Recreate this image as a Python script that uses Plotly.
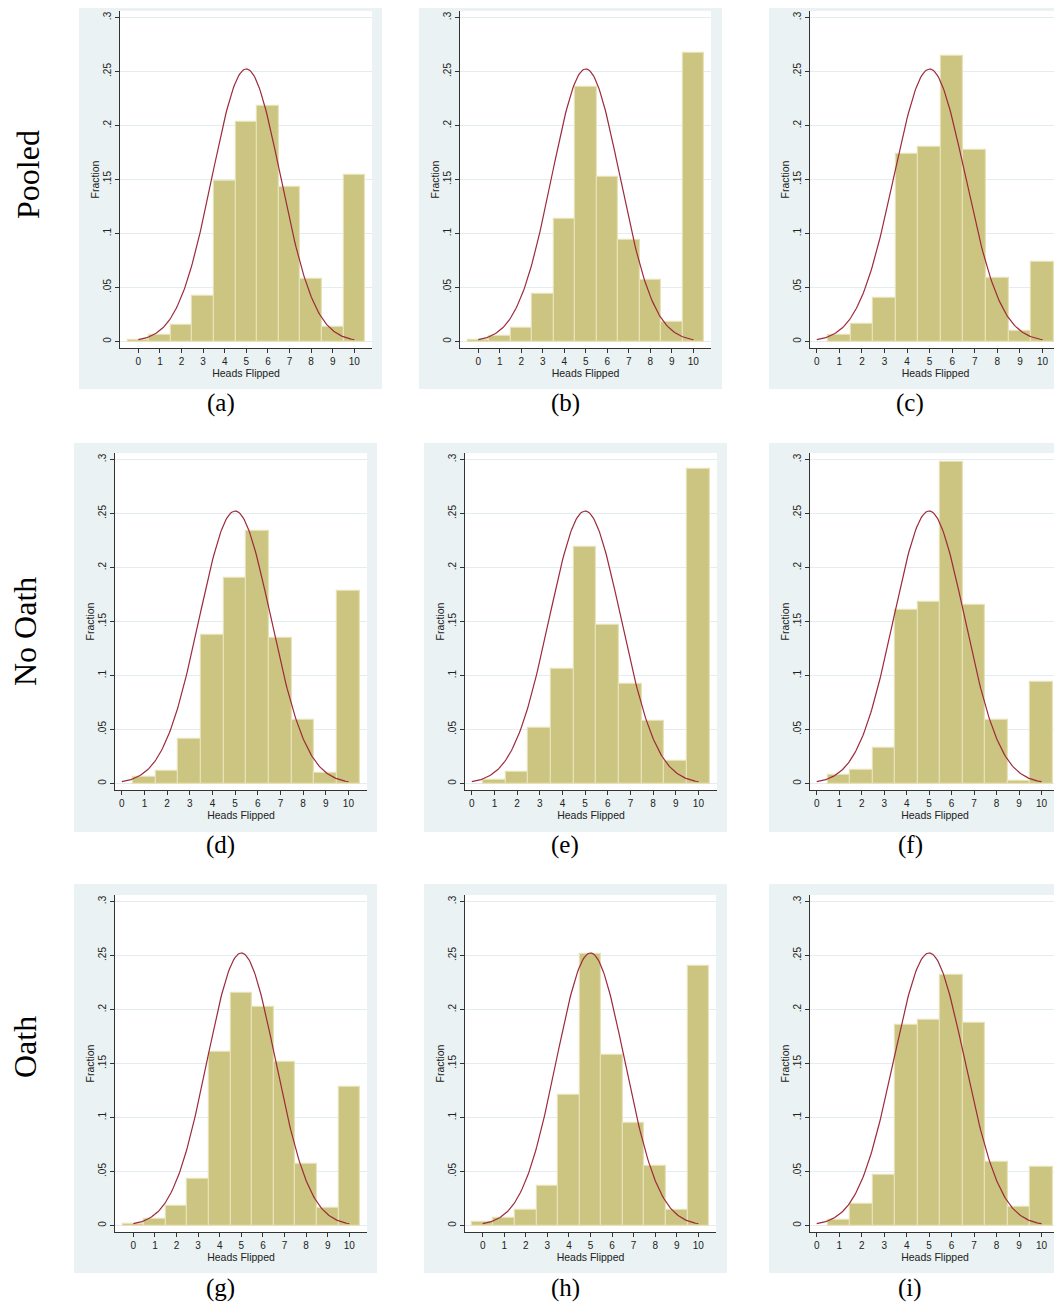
import math
import plotly.graph_objects as go

# the page body has an 8px margin; the figure is sized so that it fills the window
PAGE_W, PAGE_H = 1062, 1304
OFF = 8
W, H = PAGE_W - OFF, PAGE_H - OFF

# ---------------- data ----------------
heads = [0, 1, 2, 3, 4, 5, 6, 7, 8, 9, 10]
panel_labels = ["(a)", "(b)", "(c)", "(d)", "(e)", "(f)", "(g)", "(h)", "(i)"]
row_labels = ["Pooled", "No Oath", "Oath"]

frac_a = [0.001, 0.0062, 0.0151, 0.0419, 0.1486, 0.2029, 0.2180, 0.1428, 0.0580, 0.0136, 0.1539]
frac_b = [0.0015, 0.0052, 0.0126, 0.0441, 0.1135, 0.2353, 0.1520, 0.0940, 0.0567, 0.0179, 0.2670]
frac_c = [None, 0.0059, 0.0163, 0.0404, 0.1733, 0.1801, 0.2639, 0.1770, 0.0589, 0.0096, 0.0734]
frac_d = [None, 0.0059, 0.0118, 0.0411, 0.1376, 0.1902, 0.2341, 0.1345, 0.0585, 0.0102, 0.1785]
frac_e = [None, 0.0031, 0.0105, 0.0516, 0.1058, 0.2193, 0.1469, 0.0919, 0.0578, 0.0204, 0.2913]
frac_f = [None, 0.0077, 0.0121, 0.0328, 0.1605, 0.1679, 0.2978, 0.1655, 0.0585, 0.0022, 0.0937]
frac_g = [0.0018, 0.0059, 0.0179, 0.0428, 0.1602, 0.2153, 0.2024, 0.1512, 0.0573, 0.0163, 0.1287]
frac_h = [0.0034, 0.0071, 0.0145, 0.0363, 0.1204, 0.2516, 0.1577, 0.0946, 0.0548, 0.0145, 0.2406]
frac_i = [None, 0.0049, 0.0200, 0.0465, 0.1860, 0.1907, 0.2322, 0.1879, 0.0585, 0.0172, 0.0539]
fractions = [frac_a, frac_b, frac_c, frac_d, frac_e, frac_f, frac_g, frac_h, frac_i]

ytick_vals = [0, 0.05, 0.1, 0.15, 0.2, 0.25, 0.3]
ytick_text = ["0", ".05", ".1", ".15", ".2", ".25", ".3"]

# normal overlay: mean and variance of Binomial(10, 0.5)
norm_mu = 5.0
norm_sigma = math.sqrt(2.5)
curve_x = [i / 20 for i in range(0, 201)]
curve_y = [math.exp(-0.5 * ((x - norm_mu) / norm_sigma) ** 2) / (norm_sigma * math.sqrt(2 * math.pi))
           for x in curve_x]

# ---------------- layout geometry (page pixels) ----------------
# (bg_x0, bg_x1, bg_y0, bg_y1, plot_x0, plot_x1, plot_y0, plot_y1, xmin)
panels = [
    (79, 382, 0, 389, 120, 372, 11, 348, -0.85),
    (419, 722, 0, 389, 460, 711, 11, 348, -0.85),
    (769, 1062, 0, 389, 810, 1061, 11, 348, -0.3),
    (74, 377, 443, 832, 115, 367, 453, 790, -0.3),
    (424, 727, 443, 832, 465, 717, 453, 790, -0.3),
    (769, 1062, 443, 832, 810, 1060, 453, 790, -0.3),
    (74, 377, 884, 1273, 115, 367, 895, 1232, -0.85),
    (424, 727, 884, 1273, 465, 716, 895, 1232, -0.82),
    (769, 1062, 884, 1273, 810, 1060, 895, 1232, -0.3),
]
caption_pos = [(221, 403), (565, 403), (910, 403),
               (220, 845), (565, 845), (910, 845),
               (220, 1288), (565, 1288), (910, 1288)]
row_label_pos = [(28, 175), (25, 632), (25, 1047)]

BG = "#eaf2f3"
BAR = "#ccc481"
BAR_EDGE = "#e6e1b6"
CURVE = "#9c2a3c"
GRID = "#e3edef"
TXT = "#222222"

fig = go.Figure()
shapes = []
annotations = []
layout_axes = {}

def px(x):
    return (x - OFF) / W

def py(y):
    return 1 - (y - OFF) / H

for k, (bx0, bx1, by0, by1, x0, x1, y0, y1, xmin) in enumerate(panels):
    n = k + 1
    xa = "x" if n == 1 else f"x{n}"
    ya = "y" if n == 1 else f"y{n}"
    xkey = "xaxis" if n == 1 else f"xaxis{n}"
    ykey = "yaxis" if n == 1 else f"yaxis{n}"

    shapes.append(dict(type="rect", xref="paper", yref="paper", layer="below",
                       x0=px(bx0), x1=px(bx1), y0=py(by1), y1=py(by0),
                       fillcolor=BG, line=dict(width=0)))
    shapes.append(dict(type="rect", xref="paper", yref="paper", layer="below",
                       x0=px(x0), x1=px(x1), y0=py(y1), y1=py(y0),
                       fillcolor="white", line=dict(width=0)))

    fig.add_trace(go.Bar(x=heads, y=fractions[k], width=1.0, xaxis=xa, yaxis=ya,
                         marker=dict(color=BAR, line=dict(color=BAR_EDGE, width=1.2)),
                         showlegend=False, hoverinfo="x+y"))
    fig.add_trace(go.Scatter(x=curve_x, y=curve_y, mode="lines", xaxis=xa, yaxis=ya,
                             line=dict(color=CURVE, width=1.2), showlegend=False,
                             hoverinfo="skip"))

    layout_axes[xkey] = dict(
        domain=[max(0, px(x0)), min(1, px(x1))], anchor=ya, range=[xmin, 10.82],
        tickmode="array", tickvals=heads, ticktext=[str(h) for h in heads],
        ticks="outside", ticklen=4, tickwidth=1, tickcolor="#333",
        showline=True, linecolor="#333", linewidth=1, mirror=False,
        showgrid=False, zeroline=False,
        tickfont=dict(family="Liberation Sans", size=10, color=TXT),
        title=dict(text="Heads Flipped", standoff=0,
                   font=dict(family="Liberation Sans", size=10.5, color=TXT)),
        fixedrange=True,
    )
    layout_axes[ykey] = dict(
        domain=[max(0, py(y1)), min(1, py(y0))], anchor=xa, range=[-0.006, 0.306],
        tickmode="array", tickvals=ytick_vals, ticktext=ytick_text, tickangle=-90,
        ticks="outside", ticklen=4, tickwidth=1, tickcolor="#333",
        showline=True, linecolor="#333", linewidth=1,
        showgrid=True, gridcolor=GRID, gridwidth=1, zeroline=False,
        tickfont=dict(family="Liberation Sans", size=10, color=TXT),
        title=dict(text="Fraction", standoff=0,
                   font=dict(family="Liberation Sans", size=10.5, color=TXT)),
        fixedrange=True,
    )

for (cx, cy), lab in zip(caption_pos, panel_labels):
    annotations.append(dict(x=px(cx), y=py(cy), xref="paper", yref="paper",
                            text=lab, showarrow=False, xanchor="center", yanchor="middle",
                            font=dict(family="Liberation Serif", size=25, color="black")))

for (cx, cy), lab in zip(row_label_pos, row_labels):
    annotations.append(dict(x=px(cx), y=py(cy), xref="paper", yref="paper",
                            text=lab, showarrow=False, textangle=-90,
                            xanchor="center", yanchor="middle",
                            font=dict(family="Liberation Serif", size=32, color="black")))

fig.update_layout(
    width=W, height=H,
    margin=dict(l=0, r=0, t=0, b=0),
    paper_bgcolor="white", plot_bgcolor="rgba(0,0,0,0)",
    bargap=0, shapes=shapes, annotations=annotations,
    **layout_axes,
)

fig.write_html("out.html")
